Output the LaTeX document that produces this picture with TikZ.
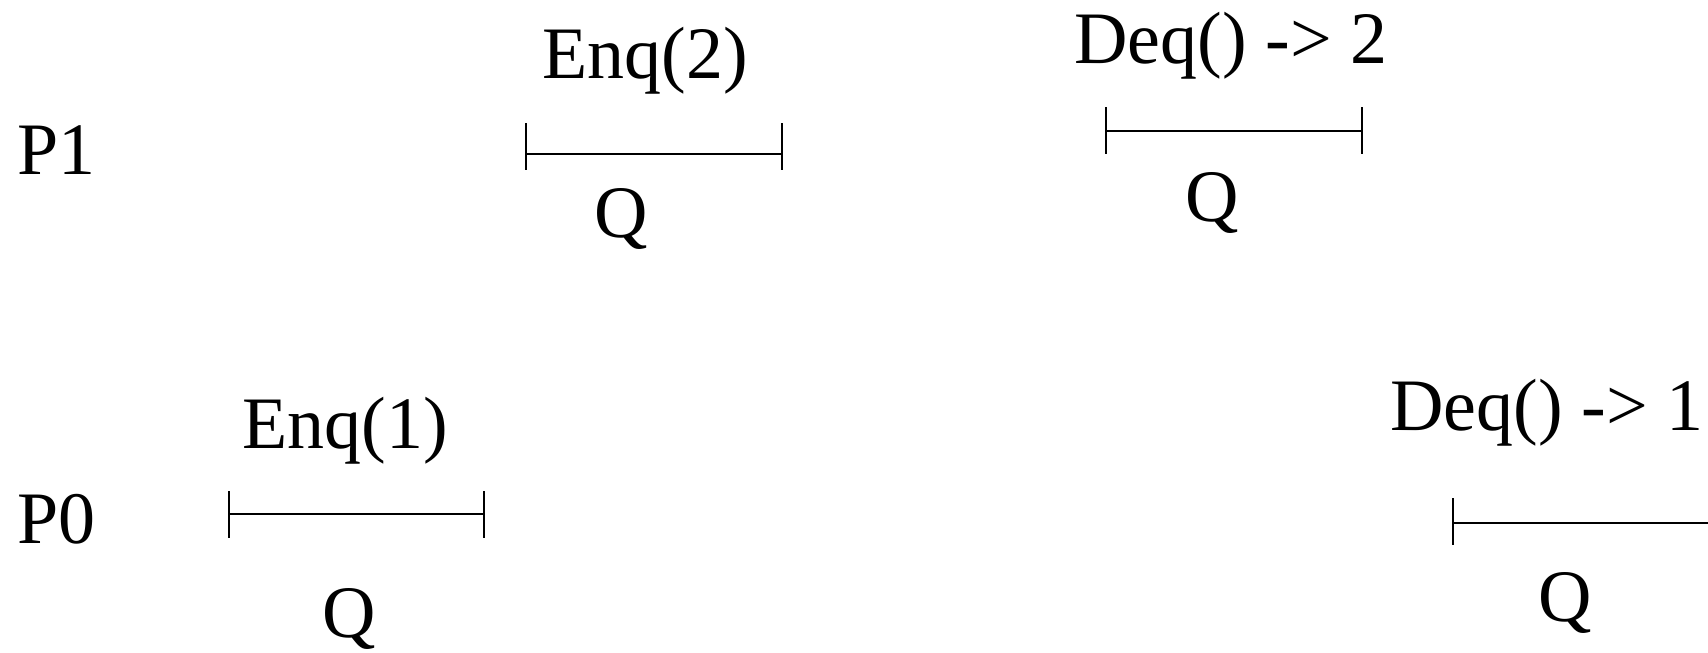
\documentclass[tikz,border=0pt]{standalone}
\usepackage{fontspec}
\setmainfont{Liberation Serif}
\begin{document}
\begin{tikzpicture}[x=1pt,y=-1pt,
  lbl/.style={inner sep=0pt, anchor=base, font=\fontsize{74}{88}\selectfont},
  proc/.style={lbl, anchor=base west},
  ivl/.style={line width=2pt, line cap=butt}]
\useasboundingbox (0,0) rectangle (1708,653);
\clip (0,0) rectangle (1708,653);
% process labels
\node[proc] (p1) at (17,174) {P1};
\node[proc] (p0) at (17,543) {P0};
% operation labels
\node[lbl] (enq2) at (645.5,78) {Enq(2)};
\node[lbl] (deq2) at (1231,63) {Deq() -> 2};
\node[lbl] (enq1) at (345,448) {Enq(1)};
\node[lbl] (deq1) at (1547,430) {Deq() -> 1};
% object labels
\node[lbl] (q1) at (621,237) {Q};
\node[lbl] (q2) at (1212,221) {Q};
\node[lbl] (q3) at (349,637) {Q};
\node[lbl] (q4) at (1565,621) {Q};
% intervals
\coordinate (a1) at (526,154); \coordinate (b1) at (782,154);
\draw[ivl] (a1) -- (b1);
\draw[ivl] (526,123) -- (526,170);
\draw[ivl] (782,123) -- (782,170);
\coordinate (a2) at (1106,131); \coordinate (b2) at (1362,131);
\draw[ivl] (a2) -- (b2);
\draw[ivl] (1106,107) -- (1106,154);
\draw[ivl] (1362,107) -- (1362,154);
\coordinate (a3) at (229,514); \coordinate (b3) at (484,514);
\draw[ivl] (a3) -- (b3);
\draw[ivl] (229,491) -- (229,538);
\draw[ivl] (484,491) -- (484,538);
\coordinate (a4) at (1453,523); \coordinate (b4) at (1720,523);
\draw[ivl] (a4) -- (b4);
\draw[ivl] (1453,498) -- (1453,545);
\end{tikzpicture}
\end{document}
